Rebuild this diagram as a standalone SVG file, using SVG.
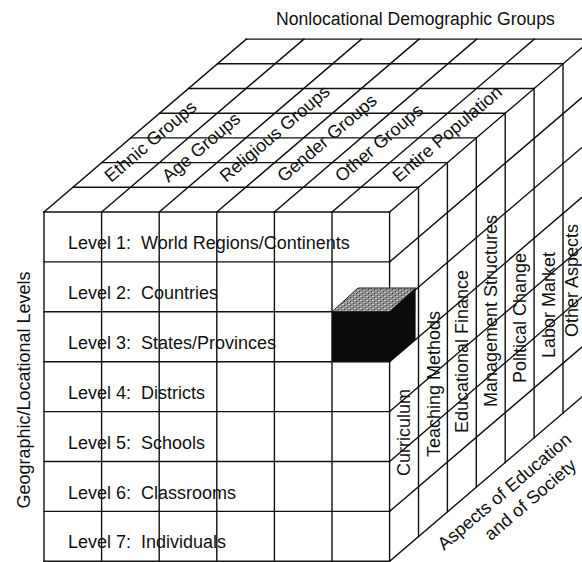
<svg xmlns="http://www.w3.org/2000/svg" width="582" height="562" viewBox="0 0 582 562">
<style>
.ln{stroke:#111;stroke-width:1.4;fill:none;stroke-linecap:square}
.t{font-family:"Liberation Sans",Arial,Helvetica,sans-serif;font-size:18px;fill:#111}
</style>
<defs>
<pattern id="tex" width="6" height="4" patternUnits="userSpaceOnUse">
<rect width="6" height="4" fill="#8c8c8c"/>
<rect x="0" y="0" width="2" height="1" fill="#c8c8c8"/>
<rect x="3" y="2" width="2" height="1" fill="#bdbdbd"/>
<rect x="2" y="1" width="1" height="1" fill="#3a3a3a"/>
<rect x="5" y="3" width="1" height="1" fill="#444"/>
</pattern>
</defs>
<rect width="582" height="562" fill="#fff"/>
<g id="connectors">
<g id="front-face">
<path class="ln" d="M44 212H389.6M44 261.9H389.6M44 311.8H389.6M44 361.7H389.6M44 411.6H389.6M44 461.5H389.6M44 511.4H389.6M44 561.3H389.6"/>
<path class="ln" d="M44 212V561.3M101.6 212V561.3M159.2 212V561.3M216.8 212V561.3M274.4 212V561.3M332 212V561.3M389.6 212V561.3"/>
</g>
<g id="top-face">
<path class="ln" d="M72.9 187.3H418.5M101.8 162.6H447.4M130.7 137.9H476.3M159.6 113.2H505.2M188.5 88.5H534.1M217.4 63.8H563M246.3 39.1H591.9"/>
<path class="ln" d="M44 212L246.3 39.1M101.6 212L303.9 39.1M159.2 212L361.5 39.1M216.8 212L419.1 39.1M274.4 212L476.7 39.1M332 212L534.3 39.1M389.6 212L591.9 39.1"/>
</g>
<g id="right-face">
<path class="ln" d="M418.5 187.3V536.6M447.4 162.6V511.9M476.3 137.9V487.2M505.2 113.2V462.5M534.1 88.5V437.8M563 63.8V413.1M591.9 39.1V388.4"/>
<path class="ln" d="M389.6 261.9L591.9 89M389.6 311.8L591.9 138.9M389.6 361.7L591.9 188.8M389.6 411.6L591.9 238.7M389.6 461.5L591.9 288.6M389.6 511.4L591.9 338.5M389.6 561.3L591.9 388.4"/>
</g>
</g>
<g id="highlight-cell">
<polygon points="332,311.8 389.6,311.8 415.6,288 358,288" fill="url(#tex)" stroke="#222" stroke-width="1"/>
<polygon points="332,311.8 389.6,311.8 389.6,361.7 332,361.7" fill="#0b0b0b"/>
<polygon points="389.6,311.8 415.6,288 415.6,339.5 389.6,361.7" fill="#0b0b0b"/>
</g>
<g id="title">
<text class="t" x="276" y="25" style="font-size:17.6px">Nonlocational Demographic Groups</text>
</g>
<g id="geographic-levels">
<text class="t" transform="translate(30,390) rotate(-90)" text-anchor="middle">Geographic/Locational Levels</text>
<text class="t" y="249"><tspan x="68">Level 1:</tspan><tspan x="141">World Regions/Continents</tspan></text>
<text class="t" y="298.9"><tspan x="68">Level 2:</tspan><tspan x="141">Countries</tspan></text>
<text class="t" y="348.8"><tspan x="68">Level 3:</tspan><tspan x="141">States/Provinces</tspan></text>
<text class="t" y="398.7"><tspan x="68">Level 4:</tspan><tspan x="141">Districts</tspan></text>
<text class="t" y="448.6"><tspan x="68">Level 5:</tspan><tspan x="141">Schools</tspan></text>
<text class="t" y="498.5"><tspan x="68">Level 6:</tspan><tspan x="141">Classrooms</tspan></text>
<text class="t" y="548.4"><tspan x="68">Level 7:</tspan><tspan x="141">Individuals</tspan></text>
</g>
<g id="demographic-groups">
<text class="t" transform="translate(111,183) rotate(-40.5)">Ethnic Groups</text>
<text class="t" transform="translate(168.6,183) rotate(-40.5)">Age Groups</text>
<text class="t" transform="translate(226.2,183) rotate(-40.5)">Religious Groups</text>
<text class="t" transform="translate(283.8,183) rotate(-40.5)">Gender Groups</text>
<text class="t" transform="translate(341.4,183) rotate(-40.5)">Other Groups</text>
<text class="t" transform="translate(399,183) rotate(-40.5)">Entire Population</text>
</g>
<g id="aspects">
<text class="t" transform="translate(410,476) rotate(-90)">Curriculum</text>
<text class="t" transform="translate(440,457) rotate(-90)">Teaching Methods</text>
<text class="t" transform="translate(468,433) rotate(-90)">Educational Finance</text>
<text class="t" transform="translate(497,407) rotate(-90)">Management Structures</text>
<text class="t" transform="translate(526,383) rotate(-90)">Political Change</text>
<text class="t" transform="translate(555,358) rotate(-90)">Labor Market</text>
<text class="t" transform="translate(578,337) rotate(-90)">Other Aspects</text>
<text class="t" transform="translate(444,551) rotate(-40.5)"><tspan x="0" y="0">Aspects of Education</tspan><tspan x="42" y="23">and of Society</tspan></text>
</g>
</svg>
